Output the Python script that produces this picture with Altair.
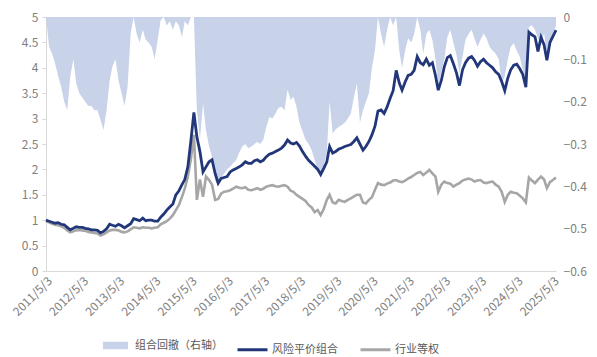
import altair as alt
import pandas as pd

# Monthly readings, 2011/5 .. 2025/6
risk_parity = [
    1.00, 0.98, 0.96, 0.94, 0.95, 0.92, 0.91, 0.86,
    0.81, 0.84, 0.87, 0.86, 0.86, 0.84, 0.83, 0.81, 0.81, 0.80, 0.75, 0.78,
    0.83, 0.92, 0.90, 0.88, 0.92, 0.89, 0.85, 0.89, 0.93, 1.03, 1.01, 0.99,
    1.04, 0.99, 1.00, 1.00, 0.98, 0.98, 1.06, 1.12, 1.20, 1.26, 1.32, 1.50,
    1.58, 1.70, 1.80, 2.05, 2.55, 3.12, 2.64, 2.35, 1.95, 2.05, 2.15, 2.19,
    1.92, 1.73, 1.82, 1.84, 1.86, 1.95, 1.99, 2.02, 2.05, 2.09, 2.15, 2.12,
    2.12, 2.17, 2.19, 2.15, 2.18, 2.25, 2.30, 2.32, 2.35, 2.38, 2.42, 2.48,
    2.58, 2.52, 2.50, 2.53, 2.46, 2.35, 2.26, 2.18, 2.12, 2.06, 2.00, 1.90,
    2.02, 2.15, 2.45, 2.32, 2.35, 2.40, 2.42, 2.45, 2.47, 2.49, 2.55, 2.62,
    2.50, 2.38, 2.45, 2.55, 2.68, 2.85, 3.15, 3.17, 3.10, 3.23, 3.40, 3.55,
    3.95, 3.70, 3.56, 3.72, 3.85, 3.87, 3.95, 4.22, 4.10, 4.06, 4.17, 4.05,
    4.10, 3.85, 3.56, 3.75, 4.02, 4.20, 4.24, 4.08, 3.90, 3.65, 3.96, 4.10,
    4.19, 4.22, 4.15, 4.03, 4.12, 4.17, 4.10, 4.05, 4.00, 3.92, 3.87, 3.73,
    3.55, 3.80, 3.96, 4.05, 4.07, 3.98, 3.87, 3.62, 4.70, 4.65, 4.61, 4.32,
    4.60, 4.45, 4.15, 4.50, 4.62, 4.74,
]

equal_weight = [
    0.98, 0.96, 0.93, 0.91, 0.90, 0.88, 0.85, 0.80,
    0.76, 0.78, 0.80, 0.81, 0.80, 0.79, 0.77, 0.76, 0.75, 0.74, 0.70, 0.72,
    0.76, 0.80, 0.81, 0.81, 0.80, 0.77, 0.76, 0.78, 0.82, 0.86, 0.85, 0.84,
    0.86, 0.85, 0.85, 0.84, 0.85, 0.86, 0.92, 0.95, 0.98, 1.03, 1.10, 1.20,
    1.30, 1.46, 1.62, 1.86, 2.20, 2.68, 1.40, 1.80, 1.46, 1.86, 1.79, 1.70,
    1.40, 1.42, 1.52, 1.56, 1.57, 1.59, 1.62, 1.66, 1.64, 1.63, 1.65, 1.60,
    1.59, 1.61, 1.63, 1.60, 1.62, 1.66, 1.68, 1.69, 1.67, 1.66, 1.68, 1.69,
    1.66, 1.58, 1.56, 1.50, 1.46, 1.42, 1.38, 1.30, 1.25, 1.16, 1.20, 1.10,
    1.22, 1.40, 1.50, 1.35, 1.33, 1.40, 1.38, 1.36, 1.40, 1.43, 1.47, 1.50,
    1.50, 1.35, 1.33, 1.40, 1.45, 1.60, 1.73, 1.70, 1.69, 1.72, 1.74, 1.78,
    1.79, 1.76, 1.75, 1.78, 1.82, 1.85, 1.89, 1.93, 1.95, 1.89, 1.94, 1.99,
    1.92, 1.86, 1.56, 1.70, 1.76, 1.73, 1.72, 1.66, 1.70, 1.73, 1.78, 1.80,
    1.82, 1.80, 1.76, 1.78, 1.79, 1.74, 1.73, 1.75, 1.76, 1.70, 1.66, 1.56,
    1.36, 1.50, 1.56, 1.54, 1.53, 1.48, 1.43, 1.35, 1.84, 1.78, 1.73, 1.80,
    1.86, 1.80, 1.63, 1.75, 1.79, 1.84,
]

drawdown = [
    0.0, -0.07, -0.086, -0.11, -0.14, -0.165, -0.20, -0.22,
    -0.14, -0.10, -0.157, -0.18, -0.19, -0.20, -0.21, -0.21, -0.22, -0.22, -0.243, -0.267,
    -0.22, -0.15, -0.117, -0.10, -0.149, -0.18, -0.21, -0.165, -0.04, 0.0, -0.04, -0.06,
    -0.03, -0.054, -0.06, -0.07, -0.10, -0.054, -0.007, 0.0, -0.02, -0.01, -0.03, -0.01,
    -0.02, -0.047, -0.01, -0.02, 0.0, 0.0, -0.22, -0.29, -0.204, -0.267, -0.306, -0.33,
    -0.385, -0.40, -0.38, -0.37, -0.36, -0.354, -0.345, -0.338, -0.32, -0.306, -0.30, -0.31,
    -0.306, -0.30, -0.295, -0.30, -0.29, -0.26, -0.236, -0.24, -0.228, -0.215, -0.212, -0.22,
    -0.172, -0.196, -0.188, -0.212, -0.25, -0.27, -0.29, -0.30, -0.314, -0.338, -0.361, -0.37,
    -0.35, -0.32, -0.20, -0.275, -0.265, -0.26, -0.255, -0.25, -0.24, -0.228, -0.19, -0.157,
    -0.25, -0.22, -0.20, -0.18, -0.12, -0.078, 0.0, -0.04, -0.07, -0.03, 0.0, -0.02,
    0.0, -0.08, -0.12, -0.08, -0.05, -0.06, -0.04, 0.0, -0.03, -0.086, -0.04, -0.03,
    -0.054, -0.10, -0.165, -0.13, -0.10, -0.047, -0.03, -0.06, -0.09, -0.133, -0.094, -0.054,
    -0.04, -0.03, -0.05, -0.07, -0.054, -0.039, -0.05, -0.07, -0.08, -0.086, -0.10, -0.157,
    -0.14, -0.10, -0.07, -0.062, -0.08, -0.094, -0.125, -0.165, -0.023, -0.02, -0.03, -0.05,
    -0.062, -0.039, -0.086, -0.06, -0.039, -0.02,
]

series_names = ["组合回撤（右轴）", "风险平价组合", "行业等权"]
series_colors = ["#c8d2e8", "#22377a", "#a6a6a6"]
left_ticks = [0, 0.5, 1, 1.5, 2, 2.5, 3, 3.5, 4, 4.5, 5]
right_ticks = [0, -0.1, -0.2, -0.3, -0.4, -0.5, -0.6]
tick_years = list(range(2011, 2026))

dates = pd.date_range("2011-05-03", periods=len(risk_parity),
                      freq=pd.DateOffset(months=1)).strftime("%Y-%m-%d").tolist()

df = pd.DataFrame({"date": dates, series_names[0]: drawdown,
                   series_names[1]: risk_parity, series_names[2]: equal_weight})
dd_df = df[["date", series_names[0]]].rename(columns={series_names[0]: "value"})
dd_df["series"] = series_names[0]
lines_df = df.melt(id_vars="date", value_vars=series_names[1:], var_name="series", value_name="value")

FONT = "Noto Sans CJK SC"
LABEL = "#7f7f7f"
AXISLINE = "#d9d9d9"

x_enc = alt.X(
    "date:T",
    scale=alt.Scale(type="utc", domain=[alt.DateTime(year=2011, month=5, date=3, utc=True),
                                        alt.DateTime(year=2025, month=6, date=3, utc=True)]),
    axis=alt.Axis(values=[alt.DateTime(year=y, month=5, date=3, utc=True) for y in tick_years],
                  format="%Y/%-m/%-d", labelAngle=-45, labelOverlap=False, ticks=False,
                  grid=False, domainColor=AXISLINE, labelColor=LABEL, labelFontSize=12,
                  labelFont=FONT, labelPadding=4, labelBound=False, title=None),
)

area = alt.Chart(dd_df).mark_area(opacity=1).encode(
    x=x_enc,
    y=alt.Y("value:Q", scale=alt.Scale(domain=[-0.6, 0], nice=False, zero=False),
            axis=alt.Axis(orient="right", values=right_ticks, format=".1~f", grid=False,
                          domain=False, ticks=False, labelColor=LABEL, labelFontSize=12,
                          labelFont=FONT, labelPadding=7, title=None)),
    y2=alt.datum(0),
    fill=alt.Fill("series:N", scale=alt.Scale(domain=series_names[:1], range=series_colors[:1]),
                  legend=alt.Legend(orient="none", legendX=57, legendY=316, title=None,
                                    symbolType="M-1,-0.3H1V0.3H-1Z", symbolSize=625,
                                    symbolStrokeWidth=0, symbolOpacity=1,
                                    labelFont=FONT, labelFontSize=11, labelColor="#595959",
                                    labelOffset=7)),
)

y_left = alt.Y("value:Q", scale=alt.Scale(domain=[0, 5], nice=False),
               axis=alt.Axis(orient="left", values=left_ticks, format="~g", grid=False,
                             domainColor=AXISLINE, tickColor=AXISLINE, tickSize=4,
                             labelColor=LABEL, labelFontSize=12, labelFont=FONT,
                             labelPadding=4, title=None))
stroke_enc = alt.Stroke("series:N", scale=alt.Scale(domain=series_names[1:], range=series_colors[1:]),
                        legend=alt.Legend(orient="none", legendX=190, legendY=316, title=None,
                                          direction="horizontal", symbolType="stroke",
                                          symbolSize=900, symbolStrokeWidth=3,
                                          labelFont=FONT, labelFontSize=11, labelColor="#595959",
                                          labelOffset=3, columnPadding=16))

gray = alt.Chart(lines_df).transform_filter(f"datum.series == '{series_names[2]}'").mark_line(
    strokeWidth=2.6).encode(x=x_enc, y=y_left, stroke=stroke_enc)
dark = alt.Chart(lines_df).transform_filter(f"datum.series == '{series_names[1]}'").mark_line(
    strokeWidth=2.8).encode(x=x_enc, y=y_left, stroke=stroke_enc)

lines = alt.layer(gray, dark)

chart = alt.layer(area, lines).resolve_scale(y="independent", fill="independent", stroke="independent").properties(
    width=510, height=254,
    autosize=alt.AutoSizeParams(type="none"),
    padding={"left": 46, "top": 17, "right": 41, "bottom": 86},
    background="white",
).configure_view(stroke=None)

chart.save("out.html", embed_options={"renderer": "svg", "actions": False})
